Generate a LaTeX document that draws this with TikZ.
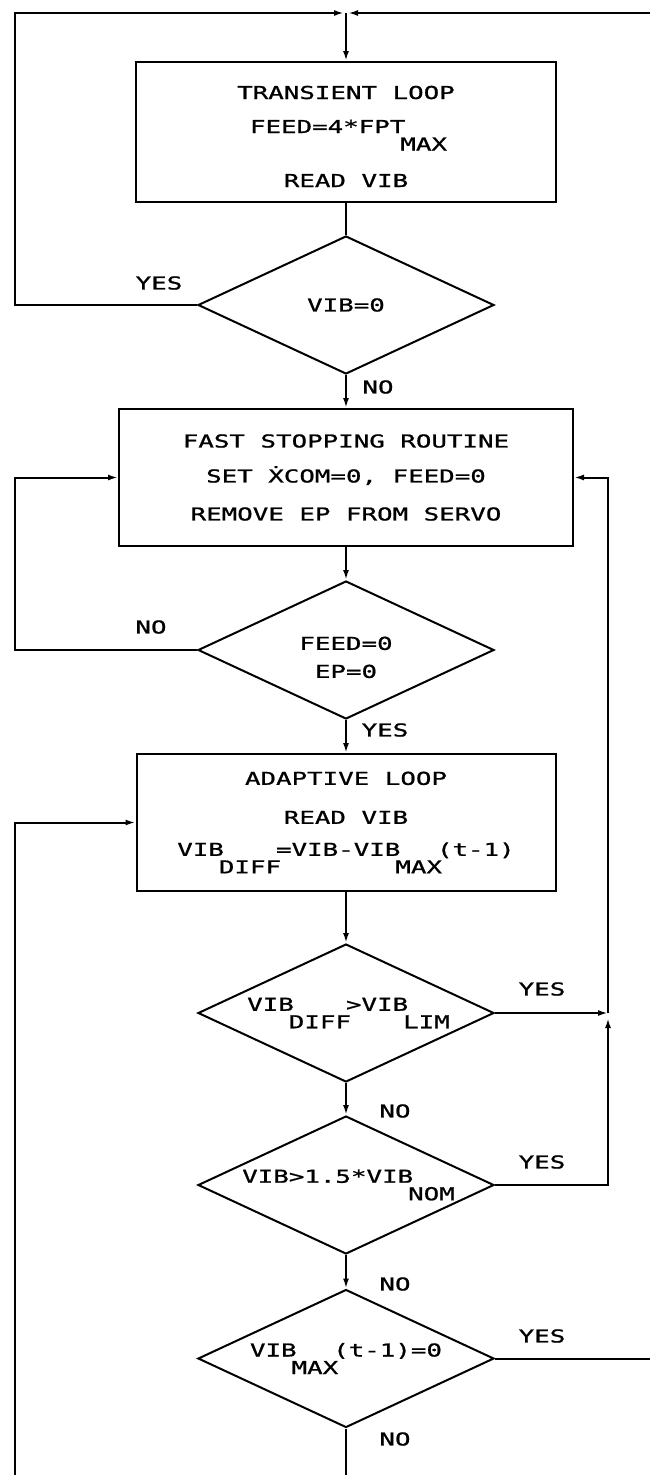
\documentclass[tikz,border=0pt]{standalone}
\usepackage{fontspec}
\newfontfamily\plotfont[FakeStretch=1.45, FakeBold=1]{DejaVu Sans Mono}
\usetikzlibrary{arrows.meta,shapes.geometric}

% lowered index, as the plotter writes it
\newcommand\lo[1]{\hspace{-5pt}\raisebox{-17.5pt}{#1}\hspace{-5pt}}

\begin{document}
\begin{tikzpicture}[
  x=1pt, y=-1pt,
  line width=2pt,
  font=\plotfont\fontsize{17.8}{22}\selectfont,
  proc/.style={draw, rectangle, align=center, inner sep=0pt, minimum height=137pt},
  test/.style={draw, diamond, aspect=2.14, inner sep=0pt, align=center,
               minimum width=296pt, minimum height=138pt},
  arr/.style={-{Latex[length=10pt, width=6pt]}},
  lab/.style={inner sep=0pt}
]
\path[use as bounding box, fill=white] (0,0) rectangle (649,1475);

% ---------------- boxes ----------------
\node[proc, minimum width=420pt, minimum height=140pt] (trans) at (346,132)
  {\rule{0pt}{22pt}TRANSIENT LOOP\\[12pt] FEED=4*FPT\smash{\lo{MAX}}\\[32pt] READ VIB};
\node[proc, minimum width=454pt] (stop) at (346,477.5)
  {FAST STOPPING ROUTINE\\[13pt] SET \.{X}COM=0, FEED=0\\[16pt] REMOVE EP FROM SERVO};
\node[proc, minimum width=419pt] (adapt) at (346,822.5)
  {ADAPTIVE LOOP\\[17pt] READ VIB\\[10pt] VIB\lo{DIFF}=VIB-VIB\lo{MAX}(t-1)};

% ---------------- tests ----------------
\node[test] (vib) at (346,305) {VIB=0};
\node[test] (halt) at (346,650) {\rule{0pt}{28pt}FEED=0\\[6pt] EP=0};
\node[test] (diff) at (346,1013) {VIB\lo{DIFF}>VIB\lo{LIM}};
\node[test] (nom) at (346,1185) {VIB>1.5*VIB\lo{NOM}};
\node[test] (last) at (346,1358.5) {VIB\lo{MAX}(t-1)=0};

% ---------------- answers ----------------
\node[lab] (yes1) at (159,283) {YES};
\node[lab] (no1) at (378,387) {NO};
\node[lab] (no2) at (151,627) {NO};
\node[lab] (yes2) at (385,730) {YES};
\node[lab] (yes3) at (542,989) {YES};
\node[lab] (no3) at (395,1111) {NO};
\node[lab] (yes4) at (542,1162) {YES};
\node[lab] (no4) at (395,1284) {NO};
\node[lab] (yes5) at (542,1336) {YES};
\node[lab] (no5) at (395,1439) {NO};

% ---------------- junctions and off-page ends ----------------
\coordinate (top) at (346,13);
\coordinate (tl) at (15,13);
\coordinate (tr) at (655,13);
\coordinate (rj) at (608,1013);
\coordinate (bl) at (15,1480);
\coordinate (out1) at (655,1358.5);
\coordinate (out2) at (346,1480);

% ---------------- main line ----------------
\draw[arr] (top) -- (trans.north);
\draw (trans.south) -- (vib.north);
\draw[arr] (vib.south) -- (stop.north);
\draw[arr] (stop.south) -- (halt.north);
\draw[arr] (halt.south) -- (adapt.north);
\draw[arr] (adapt.south) -- (diff.north);
\draw[arr] (diff.south) -- (nom.north);
\draw[arr] (nom.south) -- (last.north);
\draw (last.south) -- (out2);
\draw (last.east) -- (out1);

% ---------------- loops ----------------
\draw[arr, shorten >=2pt] (vib.west) -| (tl) -- (top);
\draw[arr, shorten >=2pt] (tr) -- (top);
\draw[arr] (halt.west) -- (halt.west -| tl) |- (stop.west);
\draw[arr] (diff.east) -- (rj);
\draw[arr, shorten >=5pt] (nom.east) -| (rj);
\draw[arr] (rj) |- (stop.east);
\draw[arr] (bl) |- (adapt.west);

\end{tikzpicture}
\end{document}
